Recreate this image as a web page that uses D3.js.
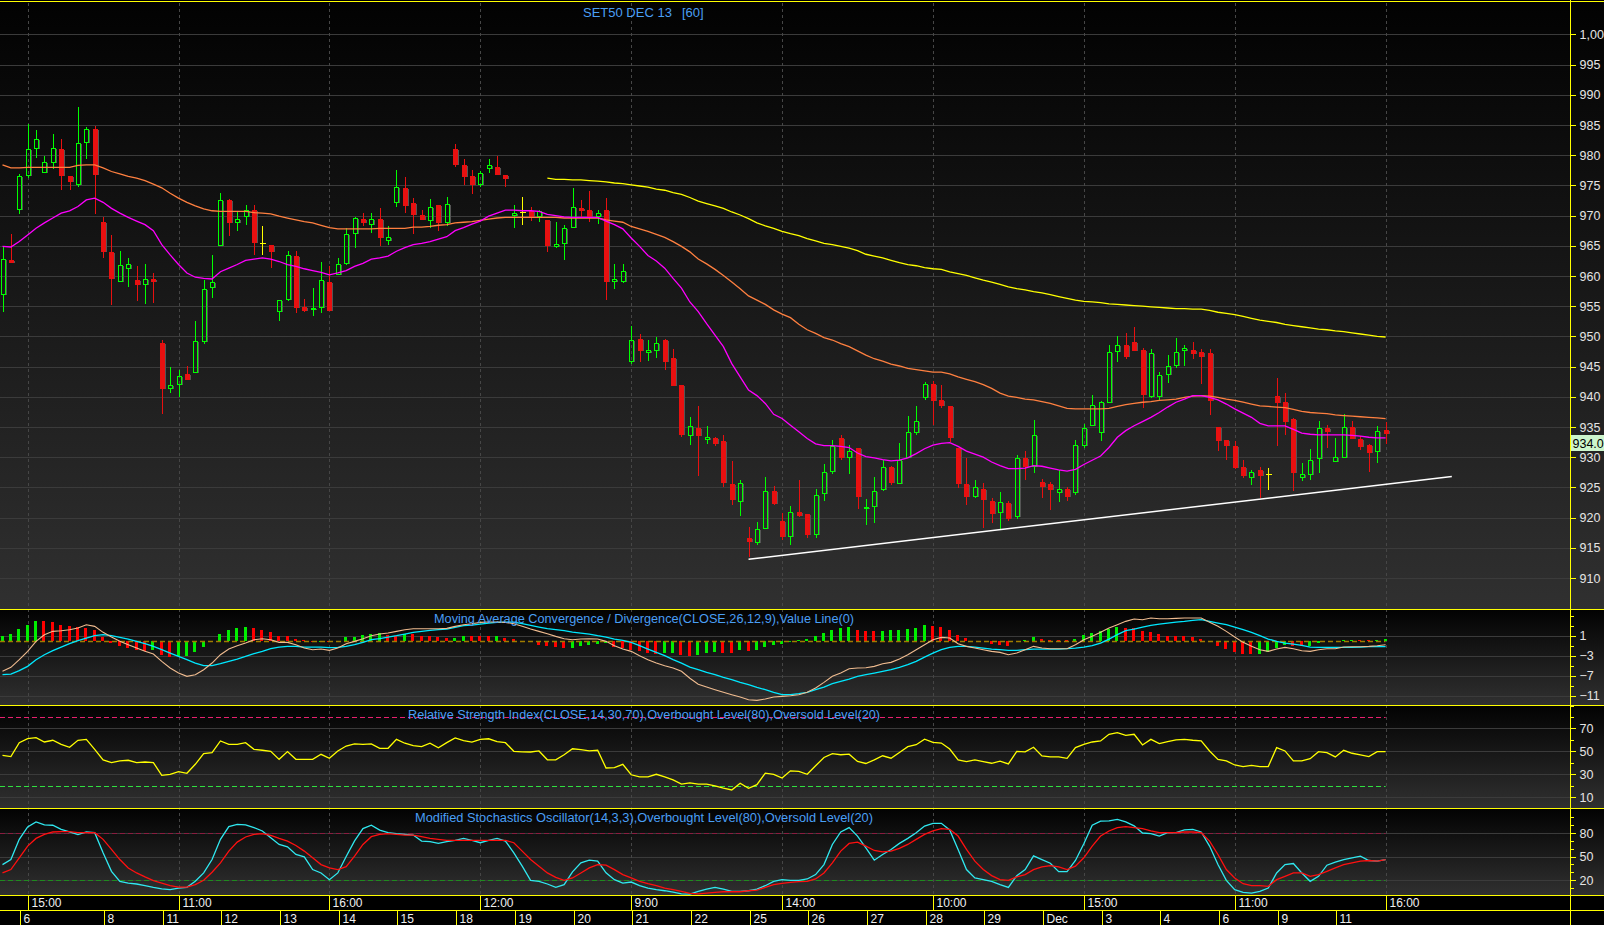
<!DOCTYPE html>
<html>
<head>
<meta charset="utf-8">
<script src="https://cdnjs.cloudflare.com/ajax/libs/d3/7.8.5/d3.min.js"></script>
<style>
html, body { margin: 0; padding: 0; background: #000; overflow: hidden; }
svg { display: block; font-family: "Liberation Sans", Arial, sans-serif; }
</style>
</head>
<body>
<div id="chart"></div>
<script>
// ---- data (one value per hourly bar, 166 bars) ----
var barOpen = [957.0,962.7,971.1,976.7,981.2,977.2,978.9,981.1,976.6,975.2,
982.2,984.4,969.0,964.0,959.1,961.3,959.3,958.6,959.5,948.9,
941.4,942.1,943.7,944.1,949.3,958.1,965.1,972.6,969.0,969.9,
970.9,965.4,965.1,954.2,956.2,963.3,954.9,954.6,954.8,959.0,
960.4,962.1,967.1,969.4,968.6,969.4,966.0,972.2,974.6,972.1,
970.1,969.2,971.7,969.0,981.1,978.4,976.5,975.3,977.9,978.1,
976.8,970.1,970.6,970.7,969.9,969.3,964.9,965.4,968.1,971.2,
970.9,970.0,970.9,959.1,959.1,946.0,949.5,947.4,947.7,949.4,
946.4,941.9,933.6,934.8,933.0,933.1,932.6,925.6,922.8,916.7,
916.0,918.3,924.4,919.4,917.0,920.9,920.6,917.3,924.0,927.7,
933.1,930.0,931.5,921.6,922.0,924.8,928.3,925.8,930.0,934.2,
940.0,942.2,939.4,938.5,931.5,925.6,923.5,924.8,922.8,920.9,
922.5,920.3,929.8,928.6,925.9,925.6,924.3,924.8,924.3,932.1,
935.4,934.1,939.2,947.5,948.5,949.1,947.8,940.1,940.2,943.7,
945.2,947.7,947.8,947.4,947.3,935.0,932.8,931.8,928.3,926.7,
927.8,927.2,940.1,939.1,936.3,926.8,927.2,929.8,934.8,929.3,
930.0,935.0,933.0,932.0,931.0,934.5];

var barHigh = [964.8,967.0,976.9,985.1,984.1,979.9,983.5,982.6,976.6,988.0,
984.6,984.8,969.8,966.8,964.2,963.0,961.7,962.0,960.5,949.4,
944.9,944.4,945.1,952.6,959.4,963.5,973.8,972.7,970.8,971.8,
971.8,968.3,965.2,956.0,964.2,964.1,956.2,958.0,962.3,961.7,
963.0,967.9,969.8,970.5,970.5,971.2,968.3,977.5,976.4,972.9,
970.9,972.8,971.7,973.1,981.9,979.4,977.6,977.4,979.4,979.9,
976.8,971.8,973.1,971.5,971.0,969.3,968.9,968.4,974.6,972.6,
974.1,970.9,972.9,962.0,962.0,951.7,950.4,949.4,949.9,949.5,
947.9,941.9,936.7,938.5,935.2,933.3,933.7,929.3,926.3,918.5,
919.2,926.8,925.2,920.7,921.9,926.3,920.6,924.8,928.8,932.9,
933.6,932.1,931.5,923.0,926.7,929.6,928.5,932.3,936.8,938.4,
942.5,942.6,941.9,938.5,931.5,929.8,926.3,925.8,923.3,924.3,
922.7,930.3,931.0,936.1,926.4,925.9,927.9,925.0,932.8,935.5,
940.3,939.3,948.6,950.0,950.6,951.5,948.0,947.9,944.1,946.9,
949.8,948.5,949.1,947.9,947.9,935.0,932.8,932.6,929.5,927.9,
928.4,928.2,943.1,940.6,936.5,929.0,931.4,936.0,935.3,933.2,
937.1,936.0,933.5,932.2,935.1,935.9];

var barLow = [954.1,962.2,970.2,976.3,979.5,977.2,977.7,974.2,974.2,974.8,
979.3,970.3,963.0,955.2,959.1,958.1,955.9,955.4,955.6,937.1,
940.7,940.0,942.9,944.1,948.7,956.3,964.9,966.6,967.4,968.5,
963.4,963.5,961.4,952.6,955.8,953.9,954.0,953.3,953.9,954.4,
960.4,961.8,964.7,968.2,967.2,965.0,965.1,971.4,970.4,967.0,
969.2,968.0,967.5,968.3,978.1,975.1,973.6,974.7,977.0,976.7,
974.8,968.0,968.5,969.1,969.0,963.9,964.7,962.7,968.1,969.7,
969.0,968.6,956.1,957.8,958.9,945.5,945.7,946.0,946.5,944.4,
941.9,933.4,932.0,926.9,932.2,931.9,925.1,922.1,920.3,913.5,
915.4,918.3,922.1,916.3,915.4,920.1,916.7,916.6,922.8,927.2,
929.6,927.2,921.4,918.8,919.1,924.4,925.4,925.8,930.0,933.6,
939.5,935.3,938.2,932.5,924.9,922.1,923.2,918.3,919.1,917.9,
919.5,919.8,926.3,927.4,923.2,921.3,922.6,922.8,923.8,931.6,
935.4,932.7,939.0,945.7,946.2,947.8,938.1,939.8,939.4,942.3,
944.8,945.1,946.3,942.1,937.0,931.0,929.5,928.1,926.5,925.4,
923.2,924.6,931.9,933.6,924.4,926.1,926.3,927.4,931.5,929.3,
930.0,933.1,931.2,927.6,929.1,932.2];

var barClose = [962.8,962.3,976.6,981.1,982.6,978.9,981.2,976.7,975.7,982.0,
984.4,976.9,964.1,959.6,961.8,962.0,958.6,959.5,959.1,941.5,
941.9,943.5,942.9,949.3,957.8,959.0,972.6,969.0,969.4,970.9,
965.6,965.4,964.2,956.0,963.5,954.9,954.4,954.7,959.3,954.4,
962.0,966.9,969.6,968.9,969.4,966.4,966.4,974.7,971.7,970.2,
969.4,971.4,968.9,971.9,978.5,976.5,975.2,977.0,978.4,976.9,
976.2,970.4,970.6,969.9,970.7,965.2,965.3,967.9,971.4,970.9,
970.0,970.4,959.1,959.5,960.8,949.4,947.7,947.7,948.9,946.0,
941.9,933.9,935.2,933.7,933.3,932.3,925.9,923.0,925.8,916.2,
918.1,924.4,922.5,917.0,921.0,920.4,917.3,923.8,927.6,931.8,
930.0,931.1,923.6,921.8,924.4,928.3,925.9,929.6,934.2,936.0,
942.2,939.5,938.6,933.3,925.8,923.6,925.0,923.0,920.8,922.6,
919.9,929.8,928.5,933.7,925.3,924.8,924.7,923.6,932.0,934.9,
938.6,939.1,947.4,948.5,946.7,947.8,940.4,947.2,943.6,945.1,
947.4,948.1,947.2,946.8,939.5,932.9,932.1,928.4,927.1,927.5,
927.1,927.2,939.2,936.0,927.5,927.3,929.6,934.9,934.4,930.0,
935.0,933.1,931.9,930.9,934.4,934.0];

// moving averages as drawn (magenta, orange, yellow)
var maShort = [964.9,964.8,965.7,966.8,967.9,968.8,969.6,970.4,970.8,971.5,
972.6,972.9,972.2,971.2,970.4,969.7,969.1,968.5,967.5,965.2,
963.5,961.9,960.5,959.8,959.6,959.5,960.7,961.3,961.9,962.6,
962.8,963.0,962.8,962.4,961.9,961.6,961.2,960.9,960.6,960.2,
960.5,960.9,961.6,962.1,962.8,963.0,963.3,964.1,964.7,965.2,
965.4,965.7,966.1,966.5,967.5,968.0,968.6,969.1,969.9,970.4,
970.9,970.9,970.8,970.8,970.7,970.2,970.0,969.8,969.7,969.7,
969.7,969.7,969.1,968.5,967.8,966.3,964.9,963.4,962.5,961.3,
959.6,958.0,955.7,954.1,952.1,950.2,948.3,945.5,943.3,941.1,
940.2,938.9,937.1,936.4,935.3,934.2,933.1,932.2,931.9,931.9,
931.8,931.6,930.7,930.1,929.9,929.6,929.4,929.5,929.9,930.6,
931.4,932.0,932.3,932.4,931.8,931.0,930.5,930.0,929.2,928.6,
928.1,928.1,928.2,928.6,928.5,928.2,927.9,927.7,928.0,928.8,
929.5,930.2,931.6,933.3,934.4,935.2,935.9,936.6,937.4,938.3,
939.1,939.6,940.2,940.2,939.9,939.5,938.8,938.0,937.3,936.6,
935.6,935.2,935.2,935.2,934.6,934.0,933.8,933.7,933.7,933.7,
933.7,933.6,933.5,933.3,933.2,933.2];

var maMid = [978.4,977.9,977.9,978.0,978.0,978.0,978.0,978.0,978.0,978.3,
978.4,978.4,977.9,977.3,976.9,976.5,976.2,975.8,975.2,974.6,
973.7,972.9,972.2,971.6,971.1,970.8,970.7,970.7,970.7,970.7,
970.5,970.4,970.3,969.9,969.6,969.3,969.0,968.8,968.4,968.0,
967.8,967.8,967.8,967.8,967.8,967.9,967.9,967.9,967.9,968.1,
968.1,968.2,968.4,968.5,968.8,968.9,969.0,969.2,969.4,969.6,
969.7,969.7,969.7,969.7,969.7,969.7,969.7,969.6,969.6,969.6,
969.6,969.6,969.3,969.1,968.9,968.2,967.8,967.4,966.9,966.4,
965.7,964.9,964.0,962.8,962.0,961.1,960.1,959.0,957.9,956.7,
956.0,955.3,954.4,953.7,953.1,952.0,951.1,950.5,949.8,949.4,
948.8,948.3,947.6,946.9,946.3,945.9,945.4,945.1,944.7,944.5,
944.3,944.1,944.1,943.8,943.3,942.9,942.5,942.0,941.4,940.6,
940.1,939.9,939.6,939.5,939.2,938.9,938.5,938.1,938.0,938.0,
938.0,938.0,938.1,938.4,938.7,938.9,939.1,939.2,939.4,939.5,
939.6,939.9,940.1,940.2,940.1,939.9,939.6,939.4,939.1,938.8,
938.5,938.4,938.3,938.2,937.9,937.6,937.4,937.3,937.2,937.0,
936.9,936.8,936.7,936.6,936.5,936.4];

var maLongStart = 65;
var maLong = [976.2,976.0,976.0,975.9,975.9,975.8,975.7,975.6,975.4,975.3,
975.1,974.9,974.7,974.4,974.2,973.8,973.5,973.0,972.4,972.0,
971.6,971.2,970.6,970.1,969.5,968.8,968.3,967.9,967.4,967.0,
966.7,966.2,965.8,965.4,965.2,964.9,964.6,964.2,963.6,963.3,
963.0,962.6,962.2,961.9,961.7,961.4,961.2,961.1,960.7,960.4,
960.1,959.7,959.3,959.0,958.6,958.2,957.9,957.7,957.4,957.2,
956.9,956.6,956.3,956.0,955.8,955.7,955.6,955.4,955.3,955.2,
955.1,955.0,954.9,954.8,954.7,954.6,954.6,954.5,954.5,954.3,
954.0,953.8,953.6,953.3,953.0,952.7,952.5,952.3,952.0,951.8,
951.6,951.4,951.2,951.1,950.9,950.8,950.6,950.4,950.2,950.0,
949.9];

// trend line [bar index, price]
var trendLine = [[89, 913.1], [172.9, 926.8]];

var macdLine = [-6.13,-5.33,-3.8,-2.13,-0.13,1.2,1.87,2.0,2.2,2.53,
3.2,2.87,1.67,0.73,-0.13,-0.8,-1.47,-2.13,-2.67,-4.13,
-5.47,-6.47,-7.13,-6.8,-5.8,-4.47,-2.8,-1.67,-1.0,-0.47,
0.2,0.4,0.2,-0.33,-0.33,-0.8,-1.47,-1.8,-1.67,-1.93,
-1.47,-0.6,-0.13,0.4,1.0,1.33,1.53,1.87,2.2,2.4,
2.4,2.4,2.4,2.47,2.87,3.2,3.4,3.67,3.73,3.73,
3.67,3.4,2.87,2.33,1.87,1.4,0.87,0.4,0.2,0.33,
0.4,0.33,-0.13,-1.0,-1.67,-2.13,-3.0,-3.8,-4.47,-5.0,
-5.47,-6.13,-7.5,-8.7,-9.27,-9.8,-10.3,-10.8,-11.27,-11.8,
-11.93,-11.67,-11.27,-11.13,-11.0,-10.8,-10.33,-9.47,-8.33,-7.13,
-6.47,-5.6,-5.47,-5.4,-5.13,-4.6,-4.33,-3.67,-2.8,-1.8,
-0.8,0.2,0.67,0.53,-0.6,-1.13,-1.47,-1.8,-2.13,-2.33,
-2.8,-2.47,-1.8,-1.13,-1.47,-1.6,-1.6,-1.6,-0.8,0.2,
0.87,1.67,2.53,3.2,3.87,4.33,4.2,4.53,4.4,4.4,
4.47,4.53,4.53,4.53,3.67,2.87,1.87,0.73,-0.33,-1.13,
-1.8,-2.13,-1.67,-1.33,-1.6,-2.0,-2.13,-1.8,-1.6,-1.6,
-1.27,-1.2,-1.2,-1.13,-1.0,-0.8];

var signalLine = [-6.8,-6.67,-6.0,-5.13,-3.8,-2.8,-2.0,-1.27,-0.6,0,
0.53,1.0,1.2,1.0,0.67,0.33,-0.13,-0.6,-1.13,-1.8,
-2.47,-3.13,-3.8,-4.47,-5.0,-5.0,-4.6,-4.13,-3.67,-3.13,
-2.6,-2.13,-1.6,-1.27,-1.13,-1.13,-1.27,-1.27,-1.27,-1.4,
-1.33,-1.13,-0.8,-0.33,0.2,0.4,0.73,1.0,1.33,1.67,
1.87,2.07,2.2,2.33,2.67,3.0,3.13,3.33,3.53,3.67,
3.73,3.73,3.4,3.07,2.73,2.4,2.2,2.0,1.73,1.53,
1.33,1.0,0.73,0.33,0.07,-0.33,-1.0,-1.67,-2.33,-3.0,
-3.8,-4.47,-5.3,-5.8,-6.33,-6.8,-7.33,-7.8,-8.33,-8.8,
-9.33,-9.8,-10.33,-10.8,-10.8,-10.6,-10.33,-9.8,-9.27,-8.6,
-8.13,-7.67,-7.13,-6.8,-6.47,-6.13,-5.8,-5.33,-4.8,-4.13,
-3.27,-2.47,-1.8,-1.33,-1.13,-1.13,-1.27,-1.47,-1.67,-1.8,
-1.93,-1.93,-1.8,-1.67,-1.67,-1.67,-1.67,-1.6,-1.47,-1.27,
-1.0,-0.47,0.33,1.2,2.0,2.33,2.73,3.07,3.33,3.53,
3.73,3.87,4.07,4.2,3.87,3.53,3.2,2.73,2.2,1.67,
1.0,0.33,-0.13,-0.47,-0.67,-0.93,-1.27,-1.33,-1.33,-1.33,
-1.33,-1.33,-1.27,-1.2,-1.2,-1.2];

var macdHist = [0.87,1.27,2.4,3.2,3.87,3.85,3.83,3.2,2.87,2.7,
2.6,2.07,0.67,-0.47,-1.0,-1.47,-1.8,-2.0,-1.8,-2.8,
-3.27,-3.13,-3.0,-2.33,-1.27,-0.13,1.27,2.07,2.47,2.67,
2.47,2.07,1.67,0.93,0.9,0.27,0.13,-0.33,-0.2,-0.33,
-0.05,0.67,0.73,1.2,1.4,1.45,1.1,0.85,1.4,1.35,
1.0,0.95,0.7,0.5,0.6,1.0,0.98,0.87,0.85,0.87,
0.53,0.33,0.0,-0.27,-0.93,-1.0,-1.33,-1.47,-1.45,-1.13,
-0.8,-0.6,-0.47,-1.27,-1.47,-1.8,-2.13,-2.47,-2.6,-2.5,
-2.45,-2.8,-3.0,-2.85,-2.47,-2.33,-2.38,-2.42,-1.93,-2.0,
-1.8,-1.27,-0.8,-0.67,-0.27,0.2,0.25,0.87,1.53,2.2,
2.53,2.67,2.2,2.0,1.87,2.0,2.05,2.2,2.33,2.53,
3.07,3.0,2.73,2.2,1.2,0.53,0.0,-0.13,-0.67,-0.8,
-1.0,-0.13,0.1,0.67,0.4,0.2,0.13,0.1,0.4,1.07,
1.53,1.87,2.4,2.67,2.6,2.5,1.87,1.8,1.4,1.0,
0.95,0.87,0.67,0.4,-0.13,-1.13,-1.67,-2.27,-2.67,-2.7,
-2.65,-2.33,-1.47,-0.8,-1.0,-1.05,-1.0,-0.47,-0.1,-0.15,
0.2,0.22,0.18,0.15,0.2,0.4];

var rsiLine = [46.5,45.4,57.5,61,61.9,58.1,59.6,56.1,53.5,59.6,
60.4,51.7,42.5,40.1,41.6,42.2,40.1,40.7,40.1,29.1,
30,32.3,30.9,38.7,48,48.8,59,56.1,56.1,57.5,
51.7,50.9,50,43,49.7,43,43,43,47.4,43.9,
50.3,54.6,56.5,56,56.5,52.6,52.6,60.4,57,55,
54,57,53,57.5,61.7,59.3,58,60.3,60.9,58.5,
57.5,50,49.5,49.4,50.3,42.6,42.6,47,52.2,51.4,
50.3,50.9,35.5,35.8,38.7,29.6,27.8,27.8,30,27.8,
25.2,21.5,22.5,21.5,21.5,20,18,16.4,22.2,17.8,
21,31,30,26.7,33,32.5,30,37.4,44.6,48,
47,47.5,41.2,39.4,42.6,46.1,44,49,54,55.7,
60.6,57.8,57.2,52,42.5,41,42.5,41,39.6,41.4,
39,50,49.5,53.5,46,45.1,45.1,43.9,53.2,56.1,
58.1,59,64.8,66.2,63.9,64.8,55.5,60.4,56.7,58.4,
59.9,60.4,59.6,59,50.3,43,41.6,38.1,36.7,37.8,
36.7,36.7,53.2,50.3,41.6,41.6,43.6,49.7,48.8,45.1,
50.9,48.3,46.8,45.4,49.7,49.7];

var stochK = [39.7,46.1,71.9,87.7,94.1,90.3,89.9,84.7,81.3,77.9,
81.3,80.4,54.7,31.1,18.3,16.1,14.9,12.7,10.6,8.8,
7.6,9.7,10.6,18.3,29,46.1,71.9,88.1,91.1,90.3,
86.9,82.6,74,65.4,62.4,52.6,49.6,33.3,29,20.4,
29,50,70,85.6,89.9,83.6,80.4,79.1,78.3,77.4,
69.7,68.9,66.7,68.9,70.6,73.1,70.6,67.6,70.6,73.1,
69.7,54.7,37.6,19.6,18.3,14.9,10.6,14,30.4,42,
45.4,44.1,29.1,20.4,16.1,17.4,12.7,9.7,7.6,6.3,
4.6,2.4,2.0,5.4,8.4,10.6,8.4,5.4,5.4,6.3,
8.4,12.7,18.3,20.4,19.6,19.6,21.3,26.9,39.7,65.4,
81.3,86.9,76.1,61.1,45.3,52.6,59,66.7,73.1,80.4,
88.9,92.4,92.4,83.9,59,33.3,22.6,20.4,18.3,14,
10.6,25.6,33.3,50.8,46.1,41.4,30.7,30.7,44.9,66.3,
89.9,95.1,95.6,97.3,94.3,89.1,80,79.1,76.1,80.4,
80.4,83.9,84.7,81.3,63.3,39.7,19.6,7.6,4.1,3.3,
5.4,9.7,29,39.7,41,29,18.3,24.7,38.9,42.7,
46.1,48.3,50.4,44.9,44.1,46.1];

var stochD = [29,33.3,48.3,63.3,73.1,78.3,81.3,81.7,81.7,80.4,
80.4,80.4,71.9,59,46.1,35.4,29,23.9,19.1,16.1,
12.7,11,11,14,19.6,29.9,41.9,56.9,68.4,74.9,
78.3,79.1,77,73.1,69.7,64.1,56.9,48.3,39.7,35.4,
33.3,37,50.4,65.4,75.3,78.3,79.1,78.3,77.4,77.4,
75.3,73.1,71.9,70.6,70.6,70.6,70.6,70.6,70.6,70.6,
70.6,67.6,56.9,46.1,37.6,29,23.4,19.6,22.6,29,
35.4,39.7,38.9,33.3,26.9,22.6,18.3,15.3,12.7,9.7,
7.6,5.4,3.0,2.4,3.3,4.1,5.0,5.0,5.0,6.3,
7.1,10.6,14,15.7,17,17.8,18.3,21.3,29,41.9,
56.9,66.7,68.4,63.3,57.7,56,56.9,60.3,65.4,71.9,
78.3,82.6,85.6,84.7,76.1,59,44,33.3,25.6,20.4,
19.6,23.9,26.9,33.3,36.7,38.4,36.7,33.3,37.6,48.3,
63.3,76.1,82.6,86.9,88.1,86.9,85.6,82.6,80.4,80.4,
80.4,81.3,81.3,80.4,69.7,52.6,33.3,22.6,15.3,12.7,
12.7,11.9,20.4,24.7,29,29,24.7,26.9,31.1,35.4,
39.7,41.9,44.1,44.9,44.1,46.1];

// axis labels
var timeTicks = [[3,"15:00"],[21,"11:00"],[39,"16:00"],[57,"12:00"],[75,"9:00"],
    [93,"14:00"],[111,"10:00"],[129,"15:00"],[147,"11:00"],[165,"16:00"]];
var dayTicks = [[2,"6"],[12,"8"],[19,"11"],[26,"12"],[33,"13"],[40,"14"],[47,"15"],
    [54,"18"],[61,"19"],[68,"20"],[75,"21"],[82,"22"],[89,"25"],[96,"26"],[103,"27"],
    [110,"28"],[117,"29"],[124,"Dec"],[131,"3"],[138,"4"],[145,"6"],[152,"9"],[159,"11"]];
var priceTicks = d3.range(910, 1001, 5);
var macdTicks = [1, -3, -7, -11];
var rsiTicks = [70, 50, 30, 10];
var stochTicks = [80, 50, 20];
var rsiLevels = [80, 20];
var stochLevels = [80, 20];

// ---- layout ----
var width = 1604, height = 925,
    axisX = 1570.5,
    nBars = barClose.length;

var panel = {
    main:  { top: 2,   bottom: 609 },
    macd:  { top: 609, bottom: 705 },
    rsi:   { top: 705, bottom: 808 },
    stoch: { top: 808, bottom: 895 }
};

var x = d3.scaleLinear().domain([0, nBars - 1]).range([2.5, 1385.6]);
var yPrice = d3.scaleLinear().domain([910, 1000]).range([578, 34.4]);
var yMacd = d3.scaleLinear().domain([-11, 1]).range([695.7, 635.7]);
var yRsi = d3.scaleLinear().domain([10, 70]).range([797.3, 728.3]);
var yStoch = d3.scaleLinear().domain([20, 80]).range([880, 833]);

var px = function(i) { return Math.round(x(i)) + 0.5; };

var svg = d3.select("#chart").append("svg")
    .attr("width", width)
    .attr("height", height);

var defs = svg.append("defs");
var grad = defs.append("linearGradient")
    .attr("id", "panelGrad")
    .attr("x1", 0).attr("y1", 0).attr("x2", 0).attr("y2", 1);
grad.append("stop").attr("offset", "0%").attr("stop-color", "#020202");
grad.append("stop").attr("offset", "100%").attr("stop-color", "#303030");

Object.keys(panel).forEach(function(k) {
    var p = panel[k];
    defs.append("clipPath").attr("id", "clip-" + k)
        .append("rect")
        .attr("x", 0).attr("y", p.top + 1)
        .attr("width", axisX).attr("height", p.bottom - p.top - 1);
    svg.append("rect")
        .attr("x", 0).attr("y", p.top)
        .attr("width", width).attr("height", p.bottom - p.top)
        .attr("fill", "url(#panelGrad)");
});

// bottom time axis background
svg.append("rect")
    .attr("x", 0).attr("y", 895)
    .attr("width", width).attr("height", height - 895)
    .attr("fill", "#000");

// ---- grid ----
var grid = svg.append("g").attr("class", "grid").style("shape-rendering", "crispEdges");

function hGrid(values, scale, p) {
    grid.selectAll(null)
        .data(values)
        .enter().append("line")
        .attr("x1", 0).attr("x2", axisX)
        .attr("y1", function(d) { return Math.round(scale(d)) + 0.5; })
        .attr("y2", function(d) { return Math.round(scale(d)) + 0.5; })
        .attr("stroke", "#3b3b3b");
}
hGrid(priceTicks, yPrice, panel.main);
hGrid(macdTicks, yMacd, panel.macd);
hGrid(rsiTicks, yRsi, panel.rsi);
hGrid(stochTicks, yStoch, panel.stoch);

grid.selectAll("line.vgrid")
    .data(timeTicks)
    .enter().append("line")
    .attr("class", "vgrid")
    .attr("x1", function(d) { return px(d[0]); })
    .attr("x2", function(d) { return px(d[0]); })
    .attr("y1", 3).attr("y2", 895)
    .attr("stroke", "#464646")
    .attr("stroke-dasharray", "3,3");

// ---- main price panel ----
var gMain = svg.append("g").attr("clip-path", "url(#clip-main)");

var green = "#00ff00", red = "#e81010", doji = "#ffff00";

var candle = gMain.selectAll("g.candle")
    .data(d3.range(nBars))
    .enter().append("g")
    .attr("class", "candle")
    .style("shape-rendering", "crispEdges");

candle.each(function(i) {
    var g = d3.select(this),
        o = barOpen[i], h = barHigh[i], l = barLow[i], c = barClose[i],
        cx = px(i),
        col = c > o ? green : (c < o ? red : doji),
        yTop = Math.round(yPrice(Math.max(o, c))),
        yBot = Math.round(yPrice(Math.min(o, c)));

    if (c > o) {
        g.append("line").attr("x1", cx).attr("x2", cx)
            .attr("y1", yPrice(h)).attr("y2", yTop).attr("stroke", col);
        g.append("line").attr("x1", cx).attr("x2", cx)
            .attr("y1", yBot).attr("y2", yPrice(l)).attr("stroke", col);
        g.append("line").attr("x1", cx + 3).attr("x2", cx + 3)
            .attr("y1", yTop + 1).attr("y2", yBot + 1).attr("stroke", "#555");
        g.append("rect")
            .attr("x", cx - 2).attr("y", yTop + 0.5)
            .attr("width", 4).attr("height", Math.max(1, yBot - yTop))
            .attr("fill", "none").attr("stroke", col);
    } else if (c < o) {
        g.append("line").attr("x1", cx).attr("x2", cx)
            .attr("y1", yPrice(h)).attr("y2", yPrice(l)).attr("stroke", col);
        g.append("rect")
            .attr("x", cx + 2.5).attr("y", yTop + 1)
            .attr("width", 1).attr("height", Math.max(1, yBot - yTop))
            .attr("fill", "#555");
        g.append("rect")
            .attr("x", cx - 2.5).attr("y", yTop)
            .attr("width", 5).attr("height", Math.max(2, yBot - yTop + 1))
            .attr("fill", col);
    } else {
        g.append("line").attr("x1", cx).attr("x2", cx)
            .attr("y1", yPrice(h)).attr("y2", yPrice(l)).attr("stroke", col);
        g.append("line").attr("x1", cx - 3).attr("x2", cx + 3)
            .attr("y1", yTop + 0.5).attr("y2", yTop + 0.5).attr("stroke", col);
    }
});

function seriesLine(values, scale, start) {
    start = start || 0;
    return d3.line()
        .x(function(d, i) { return x(i + start); })
        .y(function(d) { return scale(d); })(values);
}

gMain.append("path")
    .attr("d", seriesLine(maLong, yPrice, maLongStart))
    .attr("fill", "none").attr("stroke", "#ffff00").attr("stroke-width", 1.3);
gMain.append("path")
    .attr("d", seriesLine(maMid, yPrice))
    .attr("fill", "none").attr("stroke", "#ff8040").attr("stroke-width", 1.3);
gMain.append("path")
    .attr("d", seriesLine(maShort, yPrice))
    .attr("fill", "none").attr("stroke", "#ff00ff").attr("stroke-width", 1.3);

gMain.append("path")
    .attr("d", d3.line()
        .x(function(d) { return x(d[0]); })
        .y(function(d) { return yPrice(d[1]); })(trendLine))
    .attr("fill", "none").attr("stroke", "#ffffff").attr("stroke-width", 1.5);

svg.append("text")
    .attr("x", 583).attr("y", 17)
    .attr("fill", "#4a9ff5").style("font-size", "13px")
    .text("SET50 DEC 13");
svg.append("text")
    .attr("x", 682).attr("y", 17)
    .attr("fill", "#4a9ff5").style("font-size", "13px")
    .text("[60]");

// ---- MACD panel ----
var gMacd = svg.append("g").attr("clip-path", "url(#clip-macd)");

gMacd.selectAll("rect.hist")
    .data(macdHist)
    .enter().append("rect")
    .attr("class", "hist")
    .style("shape-rendering", "crispEdges")
    .attr("x", function(d, i) { return Math.round(x(i)) - 2; })
    .attr("width", 3)
    .attr("y", function(d) { return Math.min(yMacd(d), yMacd(0)); })
    .attr("height", function(d) { return Math.abs(yMacd(d) - yMacd(0)); })
    .attr("fill", function(d, i) {
        return (i === 0 || d > macdHist[i - 1]) ? "#00ee00" : "#ff0000";
    });

gMacd.append("line")
    .attr("x1", 0).attr("x2", x(nBars - 1))
    .attr("y1", Math.round(yMacd(0)) + 0.5).attr("y2", Math.round(yMacd(0)) + 0.5)
    .attr("stroke", "#a07c00").attr("stroke-width", 1.5)
    .attr("stroke-dasharray", "5,3");

gMacd.append("path")
    .attr("d", seriesLine(signalLine, yMacd))
    .attr("fill", "none").attr("stroke", "#00e8ff").attr("stroke-width", 1.3);
gMacd.append("path")
    .attr("d", seriesLine(macdLine, yMacd))
    .attr("fill", "none").attr("stroke", "#f0bc90").attr("stroke-width", 1.1);

// ---- RSI panel ----
var gRsi = svg.append("g").attr("clip-path", "url(#clip-rsi)");
gRsi.selectAll("line.level")
    .data(rsiLevels)
    .enter().append("line")
    .attr("x1", 0).attr("x2", x(nBars - 1))
    .attr("y1", function(d) { return Math.round(yRsi(d)) + 0.5; })
    .attr("y2", function(d) { return Math.round(yRsi(d)) + 0.5; })
    .attr("stroke", function(d) { return d > 50 ? "#e8206e" : "#30e040"; })
    .attr("stroke-dasharray", "5,3");
gRsi.append("path")
    .attr("d", seriesLine(rsiLine, yRsi))
    .attr("fill", "none").attr("stroke", "#ffff00").attr("stroke-width", 1.3);

// ---- Stochastics panel ----
var gSto = svg.append("g").attr("clip-path", "url(#clip-stoch)");
gSto.selectAll("line.level")
    .data(stochLevels)
    .enter().append("line")
    .attr("x1", 0).attr("x2", x(nBars - 1))
    .attr("y1", function(d) { return Math.round(yStoch(d)) + 0.5; })
    .attr("y2", function(d) { return Math.round(yStoch(d)) + 0.5; })
    .attr("stroke", function(d) { return d > 50 ? "#8a1c40" : "#1f8a1f"; })
    .attr("stroke-dasharray", "5,3");
gSto.append("path")
    .attr("d", seriesLine(stochK, yStoch))
    .attr("fill", "none").attr("stroke", "#30e8f0").attr("stroke-width", 1.3);
gSto.append("path")
    .attr("d", seriesLine(stochD, yStoch))
    .attr("fill", "none").attr("stroke", "#ff1010").attr("stroke-width", 1.3);

// ---- panel titles ----
var titles = [
    ["Moving Average Convergence / Divergence(CLOSE,26,12,9),Value Line(0)", 623, 420],
    ["Relative Strength Index(CLOSE,14,30,70),Overbought Level(80),Oversold Level(20)", 718.5, 472],
    ["Modified Stochastics Oscillator(14,3,3),Overbought Level(80),Oversold Level(20)", 822, 458]
];
svg.selectAll("text.ptitle")
    .data(titles)
    .enter().append("text")
    .attr("class", "ptitle")
    .attr("x", 644).attr("y", function(d) { return d[1]; })
    .attr("text-anchor", "middle")
    .attr("textLength", function(d) { return d[2]; })
    .attr("lengthAdjust", "spacingAndGlyphs")
    .attr("fill", "#4a9ff5").style("font-size", "12px")
    .text(function(d) { return d[0]; });

// ---- right axes ----
var axisG = svg.append("g").style("shape-rendering", "crispEdges");

function rightAxis(values, scale, fmt, minor) {
    axisG.selectAll(null)
        .data(minor)
        .enter().append("line")
        .attr("x1", axisX).attr("x2", axisX + 3)
        .attr("y1", function(d) { return Math.round(scale(d)) + 0.5; })
        .attr("y2", function(d) { return Math.round(scale(d)) + 0.5; })
        .attr("stroke", "#ffff00");
    axisG.selectAll(null)
        .data(values)
        .enter().append("line")
        .attr("x1", axisX).attr("x2", axisX + 5)
        .attr("y1", function(d) { return Math.round(scale(d)) + 0.5; })
        .attr("y2", function(d) { return Math.round(scale(d)) + 0.5; })
        .attr("stroke", "#ffff00");
    svg.selectAll(null)
        .data(values)
        .enter().append("text")
        .attr("x", axisX + 9)
        .attr("y", function(d) { return scale(d) + 4.5; })
        .attr("fill", "#e4e4e4").style("font-size", "12.5px")
        .text(fmt);
}
rightAxis(priceTicks, yPrice, d3.format(","), []);
rightAxis(macdTicks, yMacd, d3.format("d"), [5, 3, -1, -5, -9, -13]);
rightAxis(rsiTicks, yRsi, d3.format("d"), [80, 60, 40, 20]);
rightAxis(stochTicks, yStoch, d3.format("d"), [100, 90, 70, 60, 40, 30, 10]);

// last price box
var lastY = Math.round(yPrice(barClose[nBars - 1])) + 2;
svg.append("rect")
    .attr("x", axisX + 0.5).attr("y", lastY)
    .attr("width", width - axisX).attr("height", 16)
    .attr("fill", "#ccf5cc");
svg.append("text")
    .attr("x", axisX + 2).attr("y", lastY + 12.5)
    .attr("fill", "#000").style("font-size", "12.5px")
    .text(d3.format(".1f")(barClose[nBars - 1]));

// ---- bottom time axis ----
var bottom = svg.append("g").style("shape-rendering", "crispEdges");
bottom.selectAll("line.tt")
    .data(timeTicks)
    .enter().append("line")
    .attr("x1", function(d) { return px(d[0]); })
    .attr("x2", function(d) { return px(d[0]); })
    .attr("y1", 895).attr("y2", 910)
    .attr("stroke", "#ffff00");
bottom.selectAll("text.tt")
    .data(timeTicks)
    .enter().append("text")
    .attr("x", function(d) { return px(d[0]) + 3; })
    .attr("y", 907)
    .attr("fill", "#f0f0f0").style("font-size", "12px")
    .text(function(d) { return d[1]; });
bottom.selectAll("line.dt")
    .data(dayTicks)
    .enter().append("line")
    .attr("x1", function(d) { return px(d[0]) + 1; })
    .attr("x2", function(d) { return px(d[0]) + 1; })
    .attr("y1", 910).attr("y2", height)
    .attr("stroke", "#ffff00");
bottom.selectAll("text.dt")
    .data(dayTicks)
    .enter().append("text")
    .attr("x", function(d) { return px(d[0]) + 4; })
    .attr("y", 922.5)
    .attr("fill", "#f0f0f0").style("font-size", "12px")
    .text(function(d) { return d[1]; });

// ---- frame lines ----
var frame = svg.append("g").style("shape-rendering", "crispEdges")
    .attr("stroke", "#ffff00");
[1.5, 609.5, 705.5, 808.5, 895.5, 910.5].forEach(function(y) {
    frame.append("line").attr("x1", 0).attr("x2", width)
        .attr("y1", y).attr("y2", y);
});
frame.append("line")
    .attr("x1", axisX).attr("x2", axisX)
    .attr("y1", 0).attr("y2", height);
</script>
</body>
</html>
